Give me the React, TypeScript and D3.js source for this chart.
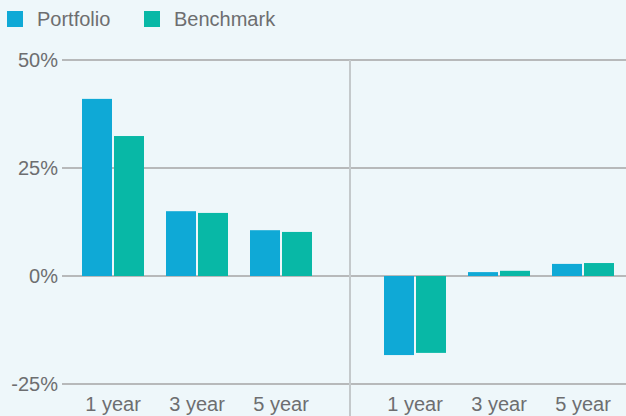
import React, { useEffect, useRef } from "react";
import * as d3 from "d3";

// data
const periods = ["1 year", "3 year", "5 year"];
const seriesNames = ["Portfolio", "Benchmark"];
const leftPortfolio = [41.0, 15.0, 10.6];
const leftBenchmark = [32.4, 14.6, 10.2];
const rightPortfolio = [-18.3, 0.9, 2.8];
const rightBenchmark = [-17.8, 1.2, 3.0];
const yTicks = [-25, 0, 25, 50];

const colors = ["#0fa9d6", "#08b8a6"];
const textColor = "#6d6e70";

const App = () => {
  const ref = useRef<SVGSVGElement>(null);

  useEffect(() => {
    const width = 626;
    const height = 416;
    const svg = d3.select(ref.current);
    svg.selectAll("*").remove();

    svg.append("rect").attr("width", width).attr("height", height).attr("fill", "#eef7fa");

    const y = d3.scaleLinear().domain([-25, 50]).range([384, 60]);
    const font = "'Liberation Sans', Arial, sans-serif";

    // gridlines + y labels
    svg.append("g")
      .selectAll("line")
      .data(yTicks)
      .join("line")
      .attr("x1", 62)
      .attr("x2", width)
      .attr("y1", d => y(d))
      .attr("y2", d => y(d))
      .attr("stroke", "#b7b9ba")
      .attr("stroke-width", 2);

    svg.append("g")
      .selectAll("text")
      .data(yTicks)
      .join("text")
      .attr("x", 58)
      .attr("y", d => y(d))
      .attr("dy", "0.35em")
      .attr("text-anchor", "end")
      .style("font-family", font)
      .style("font-size", "20px")
      .attr("fill", textColor)
      .text(d => `${d}%`);

    // divider between panels
    svg.append("line")
      .attr("x1", 350).attr("x2", 350)
      .attr("y1", y(50)).attr("y2", height)
      .attr("stroke", "#c4c9cb")
      .attr("stroke-width", 2);

    const panels = [
      { range: [71, 323], values: [leftPortfolio, leftBenchmark] },
      { range: [373, 625], values: [rightPortfolio, rightBenchmark] },
    ];

    const x1 = d3.scaleBand().domain(seriesNames).range([0, 62]).paddingInner(0.0625);

    panels.forEach(p => {
      const x0 = d3.scaleBand()
        .domain(periods)
        .range(p.range as [number, number])
        .paddingInner(22 / 84)
        .paddingOuter(11 / 84);

      const g = svg.append("g");
      periods.forEach((per, i) => {
        seriesNames.forEach((s, j) => {
          const v = p.values[j][i];
          g.append("rect")
            .attr("x", x0(per)! + x1(s)!)
            .attr("width", x1.bandwidth())
            .attr("y", Math.min(y(v), y(0)))
            .attr("height", Math.abs(y(v) - y(0)))
            .attr("fill", colors[j]);
        });
      });

      g.selectAll("text.xl")
        .data(periods)
        .join("text")
        .attr("class", "xl")
        .attr("x", d => x0(d)! + x0.bandwidth() / 2)
        .attr("y", 411)
        .attr("text-anchor", "middle")
        .style("font-family", font)
        .style("font-size", "20px")
        .attr("fill", textColor)
        .text(d => d);
    });

    // legend
    const legendX = [7, 144];
    const legend = svg.append("g");
    seriesNames.forEach((s, i) => {
      legend.append("rect")
        .attr("x", legendX[i]).attr("y", 11)
        .attr("width", 16).attr("height", 16)
        .attr("fill", colors[i]);
      legend.append("text")
        .attr("x", legendX[i] + 30)
        .attr("y", 26)
        .style("font-family", font)
        .style("font-size", "20px")
        .attr("fill", textColor)
        .text(s);
    });
  }, []);

  return (
    <svg
      ref={ref}
      width={626}
      height={416}
      style={{ position: "fixed", left: 0, top: 0, display: "block" }}
    />
  );
};

export default App;
